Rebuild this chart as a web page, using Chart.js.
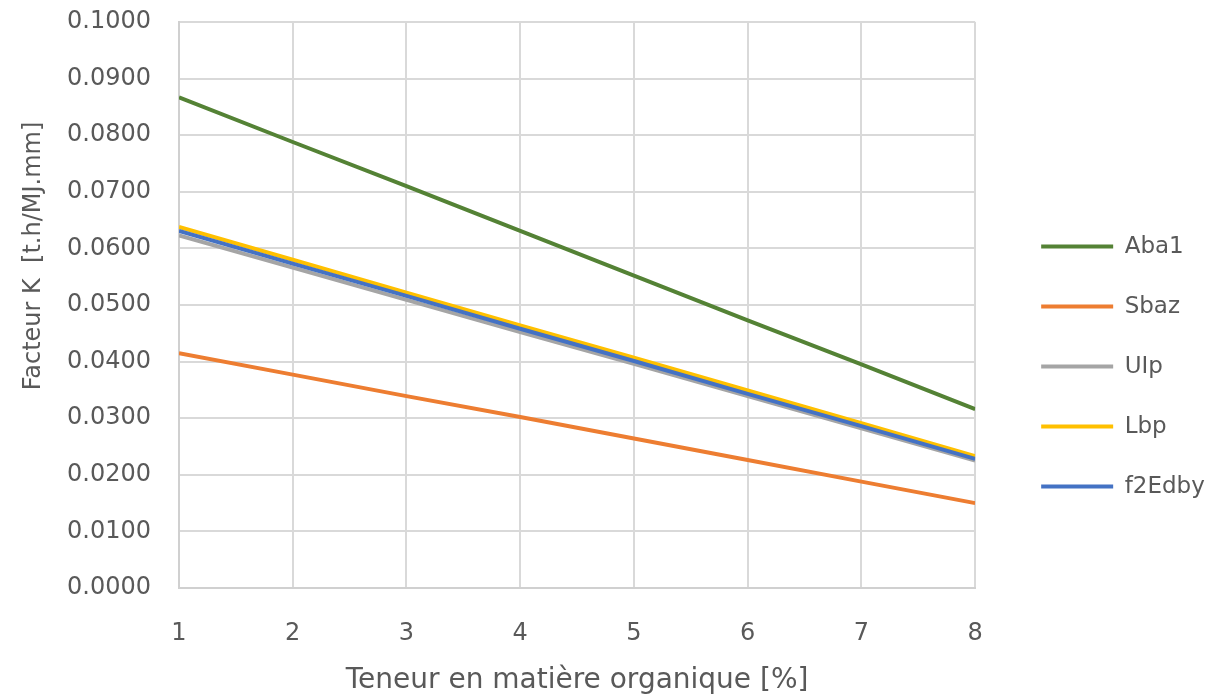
<!DOCTYPE html>
<html>
<head>
<meta charset="utf-8">
<script src="https://cdn.jsdelivr.net/npm/chart.js@4"></script>
<style>
  html, body { margin: 0; padding: 0; background: #fff; }
  #wrap { width: 1205px; height: 698px; }
</style>
</head>
<body>
<div id="wrap"><canvas id="kChart"></canvas></div>
<script>
const organicMatter = [1, 2, 3, 4, 5, 6, 7, 8];

const aba1 = [0.0867, 0.0788, 0.0710, 0.0631, 0.0552, 0.0473, 0.0395, 0.0316];
const sbaz = [0.0415, 0.0377, 0.0339, 0.0302, 0.0264, 0.0226, 0.0188, 0.0150];
const ulp = [0.0623, 0.0566, 0.0509, 0.0452, 0.0396, 0.0339, 0.0282, 0.0225];
const lbp = [0.0638, 0.0580, 0.0522, 0.0464, 0.0407, 0.0349, 0.0291, 0.0233];
const f2Edby = [0.0631, 0.0573, 0.0516, 0.0458, 0.0401, 0.0343, 0.0286, 0.0228];

const seriesNames = ['Aba1', 'Sbaz', 'UIp', 'Lbp', 'f2Edby'];
const seriesValues = [aba1, sbaz, ulp, lbp, f2Edby];
const seriesColors = ['#548235', '#ED7D31', '#A5A5A5', '#FFC000', '#4472C4'];
// later series are painted on top, like in the spreadsheet
const seriesOrder = [4, 3, 2, 1, 0];

const yTitle = 'Facteur K  [t.h/MJ.mm]';
const textColor = '#595959';
const font = 'DejaVu Sans';

const datasets = seriesNames.map((name, i) => ({
  label: name,
  data: organicMatter.map((x, j) => ({ x, y: seriesValues[i][j] })),
  borderColor: seriesColors[i],
  backgroundColor: seriesColors[i],
  borderWidth: 4,
  pointRadius: 0,
  tension: 0,
  order: seriesOrder[i],
}));

// y title sits a bit above the middle of the axis in the original
const yTitlePlugin = {
  id: 'yTitle',
  afterDraw(chart) {
    const ctx = chart.ctx;
    ctx.save();
    ctx.translate(34, 256);
    ctx.rotate(-Math.PI / 2);
    ctx.font = '24px "' + font + '"';
    ctx.fillStyle = textColor;
    ctx.textAlign = 'center';
    ctx.textBaseline = 'middle';
    ctx.fillText(yTitle, 0, 0);
    ctx.restore();
  },
};

new Chart(document.getElementById('kChart'), {
  type: 'line',
  data: { datasets },
  plugins: [yTitlePlugin],
  options: {
    responsive: true,
    maintainAspectRatio: false,
    animation: false,
    layout: { padding: { left: 0, top: 22, right: 0, bottom: 0 } },
    plugins: {
      tooltip: { enabled: false },
      legend: {
        position: 'right',
        // empty title just pushes the items a few px down
        title: { display: true, text: '', font: { size: 11 }, padding: 0 },
        labels: {
          color: textColor,
          font: { family: font, size: 23 },
          boxWidth: 72,
          boxHeight: 4,
          padding: 37,
          sort: (a, b) => a.datasetIndex - b.datasetIndex,
          generateLabels: (chart) =>
            Chart.defaults.plugins.legend.labels.generateLabels(chart).map((l) => ({
              ...l,
              lineWidth: 0,
            })),
        },
      },
    },
    scales: {
      x: {
        type: 'linear',
        min: 1,
        max: 8,
        afterFit: (scale) => { scale.height = 110; },
        ticks: {
          stepSize: 1,
          padding: 0,
          color: textColor,
          font: { family: font, size: 24 },
        },
        grid: { color: '#d9d9d9', lineWidth: 2, tickLength: 31, tickColor: 'transparent' },
        border: { color: '#d0d0d0', width: 2 },
        title: {
          display: true,
          text: 'Teneur en matière organique [%]',
          color: textColor,
          font: { family: font, size: 28 },
          padding: { top: 0, bottom: 0 },
        },
      },
      y: {
        min: 0,
        max: 0.1,
        afterFit: (scale) => { scale.width = 179; },
        ticks: {
          stepSize: 0.01,
          padding: 0,
          color: textColor,
          font: { family: font, size: 24 },
          callback: (v) => v.toFixed(4),
        },
        grid: { color: '#d9d9d9', lineWidth: 2, tickLength: 28, tickColor: 'transparent' },
        border: { color: '#d0d0d0', width: 2 },
      },
      // empty spacer between the plot and the legend
      gap: {
        type: 'linear',
        position: 'right',
        afterFit: (scale) => { scale.width = 29; },
        ticks: { display: false },
        grid: { display: false },
        border: { display: false },
      },
    },
  },
});
</script>
</body>
</html>
